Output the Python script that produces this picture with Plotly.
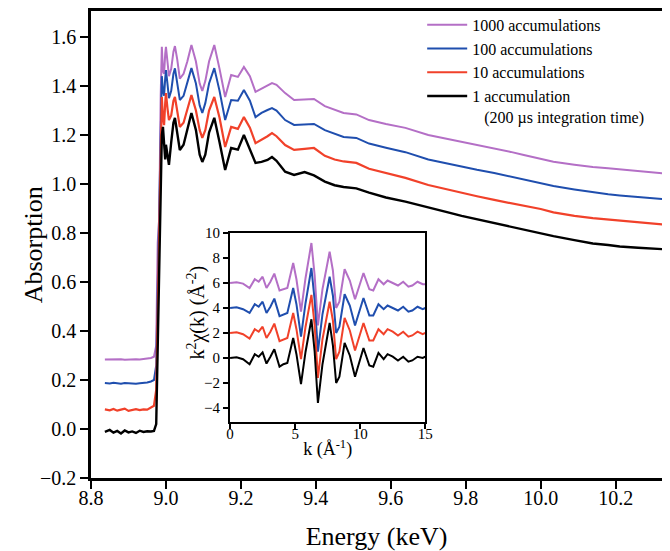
import plotly.graph_objects as go

# ---------------- main spectra (Energy in keV) ----------------
ENERGY = [8.837, 8.85, 8.86, 8.87, 8.88, 8.89, 8.90, 8.91, 8.92, 8.93,
          8.94, 8.95, 8.96, 8.968, 8.974, 8.978, 8.982, 8.986, 8.989, 8.992,
          8.995, 8.998, 9.000, 9.004, 9.008, 9.014, 9.020, 9.024, 9.030, 9.037,
          9.047, 9.057, 9.068, 9.080, 9.090, 9.097, 9.105, 9.115, 9.129, 9.143,
          9.158, 9.174, 9.192, 9.208, 9.224, 9.239, 9.255, 9.271, 9.283, 9.295,
          9.318, 9.342, 9.370, 9.395, 9.424, 9.450, 9.474, 9.508, 9.542, 9.587,
          9.639, 9.700, 9.750, 9.789, 9.830, 9.876, 9.920, 9.955, 10.000, 10.034,
          10.090, 10.139, 10.180, 10.211, 10.260, 10.316, 10.350]

ABS_1000 = [0.284, 0.285, 0.283, 0.284, 0.285, 0.283, 0.284, 0.283, 0.285, 0.284,
            0.286, 0.287, 0.290, 0.295, 0.34, 0.76, 0.86, 1.36, 1.56, 1.46,
            1.45, 1.53, 1.56, 1.50, 1.44, 1.47, 1.54, 1.563, 1.51, 1.43,
            1.45, 1.50, 1.567, 1.50, 1.41, 1.38, 1.42, 1.50, 1.567, 1.47,
            1.355, 1.445, 1.437, 1.478, 1.44, 1.376, 1.39, 1.404, 1.412, 1.405,
            1.371, 1.343, 1.345, 1.347, 1.318, 1.302, 1.29, 1.284, 1.261, 1.245,
            1.229, 1.20, 1.185, 1.171, 1.16, 1.146, 1.131, 1.118, 1.104, 1.091,
            1.079, 1.069, 1.064, 1.060, 1.053, 1.045, 1.040]

ABS_100 = [0.188, 0.186, 0.189, 0.187, 0.185, 0.188, 0.186, 0.187, 0.185, 0.187,
           0.188, 0.190, 0.194, 0.20, 0.26, 0.62, 0.80, 1.25, 1.44, 1.38,
           1.36, 1.43, 1.465, 1.41, 1.35, 1.38, 1.45, 1.472, 1.42, 1.343,
           1.36, 1.41, 1.473, 1.41, 1.32, 1.29, 1.33, 1.41, 1.473, 1.38,
           1.261, 1.343, 1.34, 1.384, 1.34, 1.273, 1.29, 1.302, 1.31, 1.30,
           1.261, 1.241, 1.243, 1.245, 1.22, 1.205, 1.192, 1.188, 1.165, 1.148,
           1.13, 1.10, 1.083, 1.069, 1.058, 1.045, 1.031, 1.020, 1.005, 0.992,
           0.978, 0.966, 0.958, 0.953, 0.947, 0.939, 0.935]

ABS_10 = [0.080, 0.076, 0.082, 0.075, 0.079, 0.083, 0.074, 0.078, 0.081, 0.077,
          0.080, 0.079, 0.086, 0.095, 0.16, 0.52, 0.74, 1.15, 1.355, 1.27,
          1.24, 1.33, 1.371, 1.31, 1.261, 1.28, 1.34, 1.355, 1.30, 1.233,
          1.25, 1.30, 1.363, 1.30, 1.22, 1.188, 1.22, 1.30, 1.355, 1.27,
          1.151, 1.233, 1.225, 1.273, 1.23, 1.167, 1.18, 1.195, 1.208, 1.195,
          1.159, 1.139, 1.143, 1.147, 1.115, 1.10, 1.092, 1.086, 1.062, 1.045,
          1.025, 0.996, 0.978, 0.963, 0.950, 0.935, 0.922, 0.912, 0.898, 0.884,
          0.870, 0.861, 0.855, 0.851, 0.845, 0.837, 0.832]

ABS_1 = [-0.012, -0.004, -0.015, -0.008, -0.018, -0.006, -0.014, -0.010, -0.016, -0.007,
         -0.012, -0.009, -0.010, -0.008, 0.02, 0.30, 0.62, 0.95, 1.20, 1.233,
         1.15, 1.10, 1.16, 1.12, 1.078, 1.17, 1.25, 1.27, 1.20, 1.139,
         1.16, 1.22, 1.29, 1.22, 1.12, 1.09, 1.12, 1.21, 1.27, 1.17,
         1.057, 1.147, 1.14, 1.20, 1.14, 1.086, 1.09, 1.098, 1.11, 1.095,
         1.05, 1.037, 1.049, 1.035, 1.01, 0.995, 0.988, 0.982, 0.965, 0.945,
         0.928, 0.903, 0.885, 0.870, 0.856, 0.843, 0.826, 0.815, 0.798, 0.787,
         0.771, 0.757, 0.751, 0.745, 0.740, 0.735, 0.732]

# ---------------- inset EXAFS k^2 chi(k) ----------------
K = [0.0, 0.5, 1.0, 1.5, 1.9, 2.2, 2.5, 2.8, 3.1, 3.4,
     3.8, 4.1, 4.4, 4.85, 5.1, 5.45, 5.8, 6.25, 6.5, 6.75,
     7.1, 7.65, 7.9, 8.15, 8.4, 8.8, 9.2, 9.6, 10.25, 10.7,
     11.0, 11.4, 11.8, 12.1, 12.5, 12.9, 13.3, 13.7, 14.0, 14.4,
     14.8, 15.0]

CHI_1000 = [6.0, 6.05, 5.95, 5.6, 6.3, 6.1, 6.5, 5.6, 6.1, 6.75,
            5.4, 5.5, 5.6, 7.6, 6.3, 3.7, 6.4, 9.2, 6.6, 2.6,
            5.5, 8.5, 7.0, 4.0, 4.5, 7.1, 6.2, 4.7, 6.8, 5.5,
            5.4, 6.3, 5.9, 6.2, 6.0, 5.8, 6.1, 5.7, 5.8, 6.1,
            5.9, 5.9]
CHI_100 = [4.0, 4.05, 3.9, 3.6, 4.3, 4.1, 4.5, 3.6, 4.1, 4.75,
           3.35, 3.5, 3.6, 5.6, 4.3, 1.7, 4.4, 7.2, 4.6, 0.5,
           3.5, 6.5, 5.0, 2.0, 2.5, 5.1, 4.2, 2.6, 4.8, 3.4,
           3.4, 4.3, 3.9, 4.2, 4.0, 3.8, 4.1, 3.7, 3.8, 4.1,
           3.9, 4.0]
CHI_10 = [2.0, 2.05, 1.9, 1.55, 2.3, 2.1, 2.5, 1.6, 2.1, 2.75,
          1.35, 1.5, 1.6, 3.6, 2.3, -0.1, 2.5, 5.05, 2.6, -1.6,
          1.5, 4.5, 3.0, -0.1, 0.5, 3.2, 2.2, 0.6, 2.8, 1.4,
          1.4, 2.3, 1.9, 2.3, 2.1, 1.8, 2.1, 1.7, 1.8, 2.1,
          1.9, 2.0]
CHI_1 = [0.0, 0.05, -0.1, -0.5, 0.3, 0.1, 0.45, -0.45, 0.1, 0.7,
         -0.7, -0.5, -0.4, 1.6, 0.3, -2.1, 0.5, 3.1, 0.5, -3.6,
         -0.5, 2.8, 1.0, -2.0, -1.5, 1.2, 0.2, -1.5, 0.8, -0.6,
         -0.7, 0.4, -0.1, 0.3, 0.1, -0.2, 0.1, -0.3, -0.2, 0.1,
         0.0, 0.1]

SERIES_NAMES = ["1000 accumulations", "100 accumulations", "10 accumulations",
                "1 accumulation<br>\u00a0\u00a0\u00a0(200 \u00b5s integration time)"]
COLORS = ["#b46fc6", "#1f4eae", "#f1412a", "#000000"]

X_TICKS = [8.8, 9.0, 9.2, 9.4, 9.6, 9.8, 10.0, 10.2]
Y_TICKS = [-0.2, 0.0, 0.2, 0.4, 0.6, 0.8, 1.0, 1.2, 1.4, 1.6]
K_TICKS = [0, 5, 10, 15]
CHI_TICKS = [-4, -2, 0, 2, 4, 6, 8, 10]

FONT = "Liberation Serif"

fig = go.Figure()
main_series = [ABS_1000, ABS_100, ABS_10, ABS_1]
inset_series = [CHI_1000, CHI_100, CHI_10, CHI_1]
widths = [2, 2, 2.2, 2.4]
for name, ys, col, w in zip(SERIES_NAMES, main_series, COLORS, widths):
    fig.add_trace(go.Scatter(x=ENERGY, y=ys, mode="lines", name=name,
                             line=dict(color=col, width=w)))
for ys, col in zip(inset_series, COLORS):
    fig.add_trace(go.Scatter(x=K, y=ys, mode="lines", showlegend=False,
                             line=dict(color=col, width=2),
                             xaxis="x2", yaxis="y2"))

W, H = 670, 551
ML, MR, MT, MB = 91, 0, 11, 73
pw, ph = W - ML - MR, H - MT - MB

fig.update_layout(
    width=W, height=H,
    margin=dict(l=ML, r=MR, t=MT, b=MB),
    paper_bgcolor="white", plot_bgcolor="white",
    font=dict(family=FONT, color="black"),
    legend=dict(x=0.58, y=1.007, xanchor="left", yanchor="top",
                font=dict(family=FONT, size=16, color="black"),
                bgcolor="rgba(0,0,0,0)", valign="top", itemwidth=40,
                tracegroupgap=0),
    xaxis=dict(range=[8.8, 8.8 + pw / 380.0], domain=[0, 1],
               showline=True, linewidth=2.5, linecolor="black", mirror=True,
               ticks="outside", ticklen=8, tickwidth=2, tickcolor="black",
               tickvals=X_TICKS, tickformat=".1f", ticklabelstandoff=-8,
               tickfont=dict(family=FONT, size=20, color="black"),
               showgrid=False, zeroline=False,
               title=dict(text="Energy (keV)", font=dict(family=FONT, size=26),
                          standoff=21)),
    yaxis=dict(range=[-0.2, -0.2 + ph / 245.0], domain=[0, 1],
               showline=True, linewidth=2.5, linecolor="black",
               ticks="outside", ticklen=8, tickwidth=2, tickcolor="black",
               tickvals=Y_TICKS, tickformat=".1f",
               tickfont=dict(family=FONT, size=20, color="black"),
               showgrid=False, zeroline=False),
    xaxis2=dict(domain=[(232 - ML) / pw, (430 - ML) / pw], anchor="y2",
                range=[0, 15], showline=True, linewidth=2, linecolor="black",
                mirror=True, ticks="outside", ticklen=5, tickwidth=1.5,
                tickcolor="black", tickvals=K_TICKS, ticklabelstandoff=-8,
                tickfont=dict(family=FONT, size=15, color="black"),
                showgrid=False, zeroline=False,
                title=dict(text="k (\u00c5<sup>-1</sup>)",
                           font=dict(family=FONT, size=18), standoff=2)),
    yaxis2=dict(domain=[(H - MB - 421.7) / ph, (H - MB - 233) / ph], anchor="x2",
                range=[-5.1, 10], showline=True, linewidth=2, linecolor="black",
                mirror=True, ticks="outside", ticklen=5, tickwidth=1.5,
                tickcolor="black", tickvals=CHI_TICKS,
                tickfont=dict(family=FONT, size=15, color="black"),
                showgrid=False, zeroline=False),
    annotations=[
        dict(text="Absorption", xref="paper", yref="paper",
             x=(33 - ML) / pw, y=0.5, xanchor="center", yanchor="middle",
             textangle=-90, showarrow=False,
             font=dict(family=FONT, size=26, color="black")),
        dict(text="k<sup>2</sup>\u03c7(k) (\u00c5<sup>-2</sup>)",
             xref="paper", yref="paper",
             x=(197 - ML) / pw, y=(H - MB - 313) / ph,
             xanchor="center", yanchor="middle",
             textangle=-90, showarrow=False,
             font=dict(family=FONT, size=20, color="black")),
    ],
)

fig.write_html(
    "out.html",
    config={"displayModeBar": False},
    post_script=("document.body.style.margin='0px';"
                 "document.body.style.overflow='hidden';"
                 "document.documentElement.style.overflow='hidden';"),
)
